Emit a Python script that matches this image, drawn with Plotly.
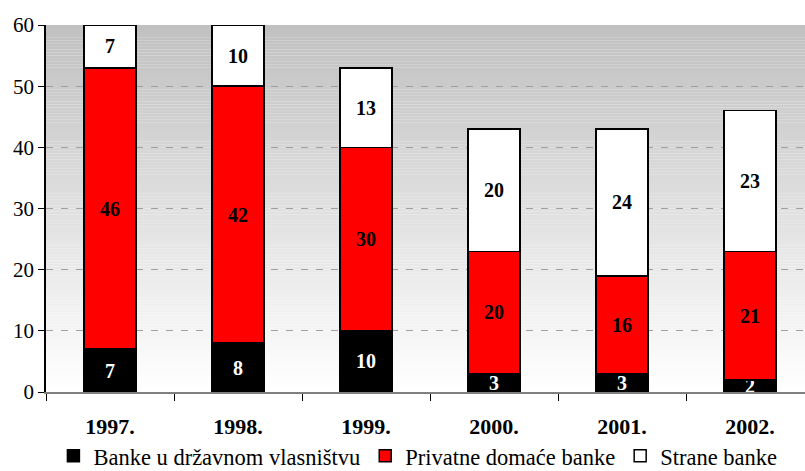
import plotly.graph_objects as go

years = ["1997.", "1998.", "1999.", "2000.", "2001.", "2002."]
state = [7, 8, 10, 3, 3, 2]
private = [46, 42, 30, 20, 16, 21]
foreign = [7, 10, 13, 20, 24, 23]
series_names = ["Banke u državnom vlasništvu", "Privatne domaće banke", "Strane banke"]
y_ticks = [0, 10, 20, 30, 40, 50, 60]

FONT = "Liberation Serif"
fig = go.Figure()
specs = [(state, "#000000", "white"), (private, "#ff0000", "black"), (foreign, "#ffffff", "black")]
for name, (vals, col, tcol) in zip(series_names, specs):
    fig.add_trace(go.Bar(
        x=list(range(len(years))), y=vals, name=name,
        marker=dict(color=col, line=dict(color="black", width=1.5)),
        width=0.406,
        text=[str(v) for v in vals], textposition="inside", insidetextanchor="middle",
        textangle=0, constraintext="none",
        textfont=dict(family=FONT, size=20, color=tcol),
        texttemplate="<b>%{text}</b>",
        hoverinfo="skip",
    ))

# gradient background
n = 120
top, bot = 60, 0
for i in range(n):
    t = i / (n - 1)
    g = int(round(192 + (255 - 192) * (1 - t)))  # bottom white -> top gray
    y0 = bot + (top - bot) * i / n
    y1 = bot + (top - bot) * (i + 1) / n + 0.01
    fig.add_shape(type="rect", xref="paper", yref="y", x0=0, x1=1, y0=y0, y1=y1,
                  fillcolor=f"rgb({g},{g},{g})", line=dict(width=0), layer="below")

fig.update_layout(
    barmode="stack",
    width=805, height=471,
    margin=dict(l=46, r=0, t=25, b=79, autoexpand=False),
    paper_bgcolor="white", plot_bgcolor="rgba(0,0,0,0)",
    font=dict(family=FONT, color="black"),
    showlegend=True,
    legend=dict(orientation="h", x=0.49, xanchor="center", y=-0.175, yanchor="middle",
                font=dict(family=FONT, size=22.5), traceorder="normal",
                itemwidth=30, tracegroupgap=0),
    xaxis=dict(range=[-0.5, 5.5 - 9 / 128], tickmode="array", automargin=False,
               tickvals=list(range(len(years))), ticktext=[f"<b>{y}</b>" for y in years],
               tickfont=dict(family=FONT, size=22), showgrid=False,
               showline=True, linecolor="#808080", linewidth=1.5, zeroline=False,
               ticks="", ticklabelstandoff=14),
    yaxis=dict(range=[0, 60], tickvals=y_ticks, tickfont=dict(family=FONT, size=21),
               automargin=False,
               showgrid=True, gridcolor="#a0a0a0", griddash="7px,8px", gridwidth=1,
               showline=True, linecolor="black", linewidth=1.5, zeroline=False,
               ticks="outside", ticklen=6, tickcolor="black", tickwidth=1),
)

# category boundary ticks on x axis (as minor ticks)
fig.update_xaxes(minor=dict(tickmode="array", tickvals=[i - 0.5 for i in range(len(years) + 1)],
                            ticks="outside", ticklen=7, tickcolor="black", tickwidth=1, showgrid=False))

fig.write_html("out.html", config={"displayModeBar": False},
               post_script="document.body.style.margin='0';document.body.style.overflow='hidden';")
